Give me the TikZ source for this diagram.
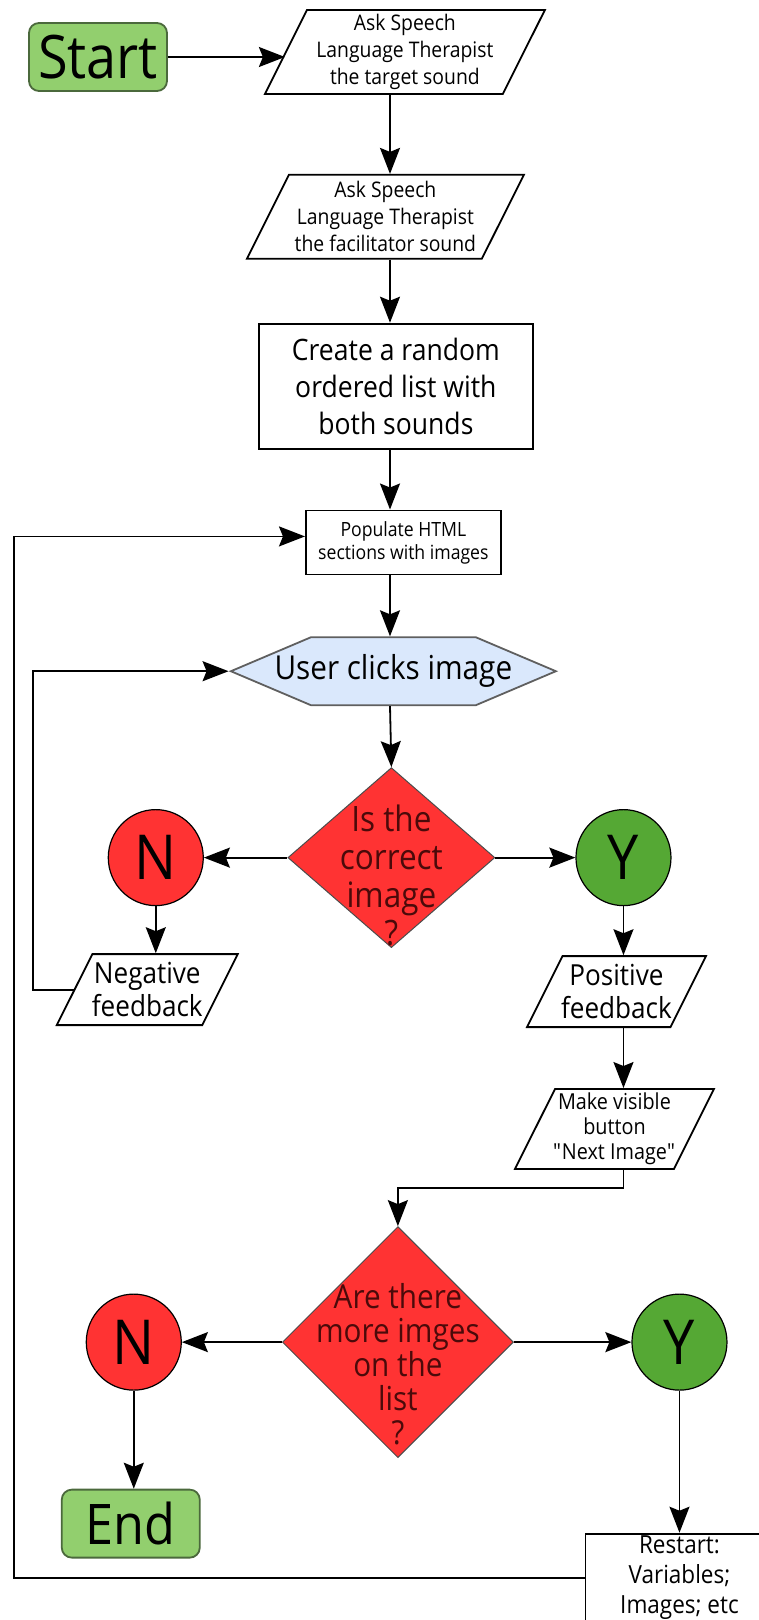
\documentclass[tikz,border=0pt]{standalone}
\usepackage{fontspec}
\setmainfont{Open Sans}[FakeStretch=0.9]
\usepackage{tikz}
\usetikzlibrary{positioning,shapes.geometric,shapes.symbols,arrows.meta}

\definecolor{termgreen}{RGB}{146,207,110}
\definecolor{termedge}{RGB}{75,105,60}
\definecolor{nored}{RGB}{255,51,51}
\definecolor{yesgreen}{RGB}{85,168,52}
\definecolor{hexblue}{RGB}{218,232,252}
\definecolor{hexedge}{RGB}{95,95,95}
\definecolor{qtext}{RGB}{75,10,10}

\begin{document}
\begin{tikzpicture}[
    x=1pt, y=-1pt,
    node distance=60pt,
    >={Stealth[length=26pt,width=20pt,inset=4pt]},
    every node/.style={line width=1.8pt, inner sep=0pt, align=center},
    fs/.style 2 args={font=\fontsize{#1}{#2}\selectfont},
    term/.style={draw=termedge, fill=termgreen, rounded corners=10pt,
        minimum width=138pt, minimum height=68pt},
    para/.style 2 args={draw, fill=white, trapezium, trapezium left angle=63.4,
        trapezium right angle=116.6, trapezium stretches body,
        minimum width=#1, text height=#2, text depth=0pt},
    proc/.style={draw, fill=white, rectangle},
    hexa/.style={draw=hexedge, fill=hexblue, signal, signal to=west and east,
        signal pointer angle=46, text height=68pt, text depth=0pt},
    decision/.style={draw=black!70, line width=1pt, fill=nored, diamond},
    answer/.style={draw, line width=1.2pt, ellipse, minimum width=95pt,
        minimum height=96pt, fs={62}{62}},
    arr/.style={->, line width=1.8pt}
]
\useasboundingbox (0,0) rectangle (759,1620);

% column of the main flow
\node[term, fs={60}{60}] (Start) at (98,57) {Start};
\node[para={280pt}{84pt}, right=117pt of Start, yshift=5pt,
    label={[fs={21.5}{27}]center:{Ask Speech\\Language Therapist\\the target sound}}] (P1) {};
\node[para={277pt}{84pt}, below=79pt of P1, xshift=-19.5pt,
    label={[fs={21.5}{27}]center:{Ask Speech\\Language Therapist\\the facilitator sound}}] (P2) {};
\node[proc, minimum width=274pt, minimum height=125pt, below=63pt of P2, xshift=10.5pt,
    fs={29.5}{37}] (List) {Create a random\\ordered list with\\both sounds};
\node[proc, minimum width=195pt, minimum height=64pt, below=60pt of List, xshift=7.5pt,
    fs={19.6}{23}] (Pop) {Populate HTML\\sections with images};
\node[hexa, minimum width=325pt, below=61pt of Pop, xshift=-10pt,
    label={[fs={33}{36}]center:User clicks image}] (Click) {};
\node[decision, minimum width=207pt, minimum height=180pt, below=61pt of Click, xshift=-2pt,
    label={[fs={35}{38}, text=qtext, yshift=-18pt]center:{Is the\\correct\\image\\?}}] (Check) {};

% first answer
\node[answer, fill=nored, left=83.5pt of Check] (No1) {N};
\node[answer, fill=yesgreen, right=80pt of Check] (Yes1) {Y};
\node[para={181pt}{71pt}, below=47pt of No1, xshift=-8.5pt,
    label={[fs={29}{33}]center:{Negative\\feedback}}] (Neg) {};
\node[para={179pt}{71pt}, below=49pt of Yes1, xshift=-7pt,
    label={[fs={29}{33}]center:{Positive\\feedback}}] (Pos) {};
\node[para={199pt}{80pt}, below=60pt of Pos, xshift=-2pt,
    label={[fs={22}{25}]center:{Make visible\\button\\\textquotedbl Next Image\textquotedbl}}] (Next) {};

% second question
\node[decision, minimum width=231pt, minimum height=231pt, below=278pt of Check, xshift=6.5pt,
    label={[fs={33}{34}, text=qtext, yshift=-22pt]center:{Are there\\more imges\\on the\\list\\?}}] (More) {};
\node[answer, fill=nored, left=100pt of More] (No2) {N};
\node[answer, fill=yesgreen, right=117.5pt of More] (Yes2) {Y};
\node[term, fs={56}{56}, below=98pt of No2, xshift=-3pt] (End) {End};
\node[proc, minimum width=188pt, minimum height=88pt, below=142pt of Yes2,
    fs={25}{30}] (Restart) {Restart:\\Variables;\\Images; etc};

\coordinate (col) at (390,0);
\coordinate (inner) at (33,0);
\coordinate (outer) at (14,0);

\draw[arr] (Start.east) -- (Start.east -| P1.west);
\draw[arr] (P1.south -| col) -- (P2.north -| col);
\draw[arr] (P2.south -| col) -- (List.north -| col);
\draw[arr] (List.south -| col) -- (Pop.north -| col);
\draw[arr] (Pop.south -| col) -- (Click.north -| col);
\draw[arr] (Click.south -| col) -- (Check.north);
\draw[arr] (Check.west) -- (No1.east);
\draw[arr] (Check.east) -- (Yes1.west);
\draw[arr] (No1.south) -- (No1.south |- Neg.north);
\draw[arr] (Neg.west) -- (Neg.west -| inner) |- (Click.west);
\draw[arr] (Yes1.south) -- (Yes1.south |- Pos.north);
\draw[arr] (Pos.south -| Yes1) -- (Next.north -| Yes1);
\draw[arr] (Next.south -| Yes1) -- ++(0,18) -| (More.north);
\draw[arr] (More.west) -- (No2.east);
\draw[arr] (More.east) -- (Yes2.west);
\draw[arr] (No2.south) -- (No2.south |- End.north);
\draw[arr] (Yes2.south) -- (Restart.north);
\draw[arr] (Restart.west) -- (Restart.west -| outer) |- ([yshift=6pt]Pop.west);
\end{tikzpicture}
\end{document}
